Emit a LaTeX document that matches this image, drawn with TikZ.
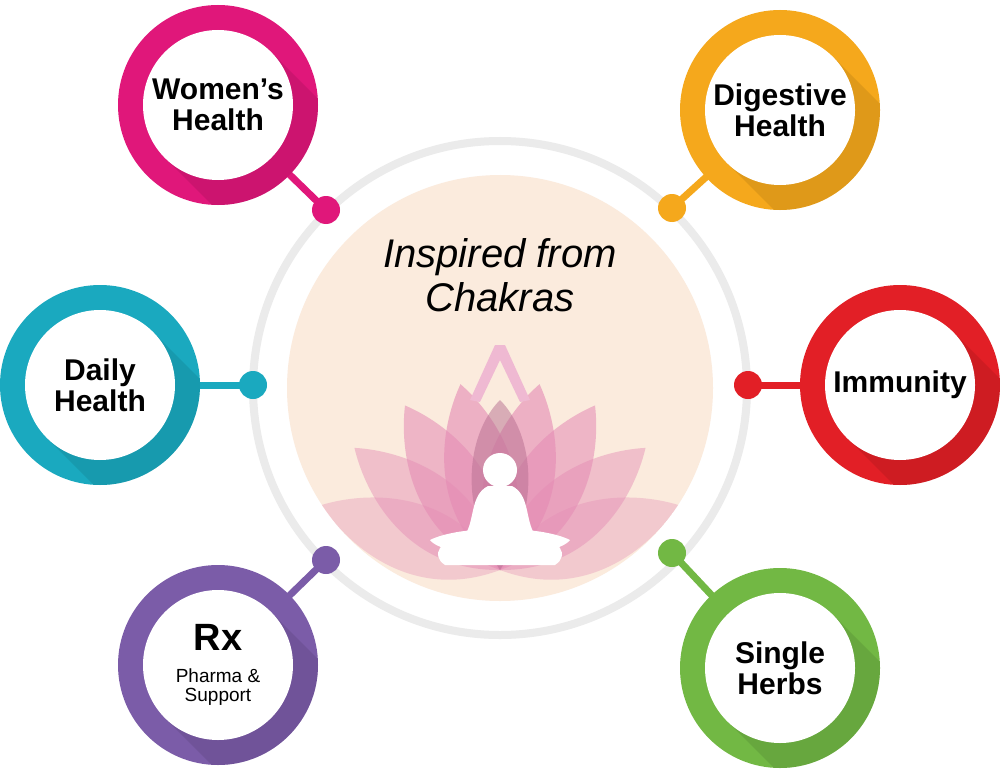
\documentclass[tikz,border=0pt]{standalone}
\usepackage{fontspec}
\setmainfont{Liberation Sans}
\usetikzlibrary{calc}
\definecolor{cpink}{HTML}{E0177A}
\definecolor{corange}{HTML}{F5A81C}
\definecolor{cteal}{HTML}{1AA9BF}
\definecolor{cred}{HTML}{E21F26}
\definecolor{cpurple}{HTML}{7B5CA8}
\definecolor{cgreen}{HTML}{72B844}
\definecolor{cbg}{HTML}{FBEBDD}
\definecolor{petal}{HTML}{E48AB4}
\tikzset{
 x=1pt,y=-1pt,
 lbl/.style={font=\bfseries\fontsize{30}{31}\selectfont,align=center,text=black},
 dotc/.style={circle,inner sep=0pt,minimum size=28pt},
}
\newcommand{\topic}[6]{% name, x, y, color, dotx, doty
 \coordinate (#1) at (#2,#3);
 \node[dotc,fill=#4] (#1d) at (#5,#6) {};
 \draw[#4,line width=7pt] (#1) -- (#1d.center);
 \fill[#4] (#1) circle (100);
 \begin{scope}
  \clip (#1) circle (100);
  \fill[#4!75!black,opacity=0.35] ($(#1)+(-53,53)$) -- ($(#1)+(53,-53)$) -- ($(#1)+(153,47)$) -- ($(#1)+(47,153)$) -- cycle;
 \end{scope}
 \fill[white] (#1) circle (75);
}
\begin{document}
\begin{tikzpicture}
\useasboundingbox (0,0) rectangle (1000,770);
\fill[white] (0,0) rectangle (1000,770);
\draw[black!8,line width=8pt] (500,388) circle (247);
\node[circle,fill=cbg,minimum size=426pt,inner sep=0pt] (hub) at (500,388) {};
\topic{wh}{218}{105}{cpink}{326}{210}
\topic{dg}{780}{110}{corange}{672}{208}
\topic{dh}{100}{385}{cteal}{253}{385}
\topic{im}{900}{385}{cred}{748}{385}
\topic{rx}{218}{665}{cpurple}{326}{560}
\topic{sh}{780}{668}{cgreen}{672}{553}
\node[lbl] at (wh) {Women’s\\Health};
\node[lbl] at (dg) {Digestive\\Health};
\node[lbl] at (dh) {Daily\\Health};
\node[lbl] at (im) {Immunity};
\node[lbl,font=\bfseries\fontsize{38}{38}\selectfont] at ($(rx)+(0,-28)$) {Rx};
\node[align=center,font=\fontsize{19}{19}\selectfont] at ($(rx)+(0,22)$) {Pharma \&\\Support};
\node[lbl] at (sh) {Single\\Herbs};
% title
\node[font=\itshape\fontsize{40}{44}\selectfont,align=center] (title) at (500,275) {Inspired from\\Chakras};
% lotus
\begin{scope}
 \clip (500,388) circle (213);
 \foreach \a/\o in {-70/0.35,-50/0.45,-30/0.55,30/0.55,50/0.45,70/0.35,-12/0.6,12/0.6}{
  \fill[petal,opacity=\o,rotate around={\a:(500,570)}] (500,570) .. controls (440,500) and (470,420) .. (500,380) .. controls (530,420) and (560,500) .. (500,570);
 }
 \fill[petal!80!black,opacity=0.5] (500,570) .. controls (455,500) and (470,430) .. (500,400) .. controls (530,430) and (545,500) .. (500,570);
\end{scope}
% figure
\fill[petal!60!white] (470,400) -- (495,345) -- (505,345) -- (530,400) -- (520,402) -- (500,360) -- (480,402) -- cycle;
\fill[white] (500,470) circle (17);
\fill[white] (488,486) -- (512,486) .. controls (530,495) and (525,520) .. (535,535) .. controls (560,540) and (570,555) .. (555,565) -- (445,565) .. controls (430,555) and (440,540) .. (465,535) .. controls (475,520) and (470,495) .. (488,486) -- cycle;
\fill[white] (430,540) .. controls (460,525) and (540,525) .. (570,540) .. controls (555,560) and (445,560) .. (430,540) -- cycle;
\end{tikzpicture}
\end{document}
